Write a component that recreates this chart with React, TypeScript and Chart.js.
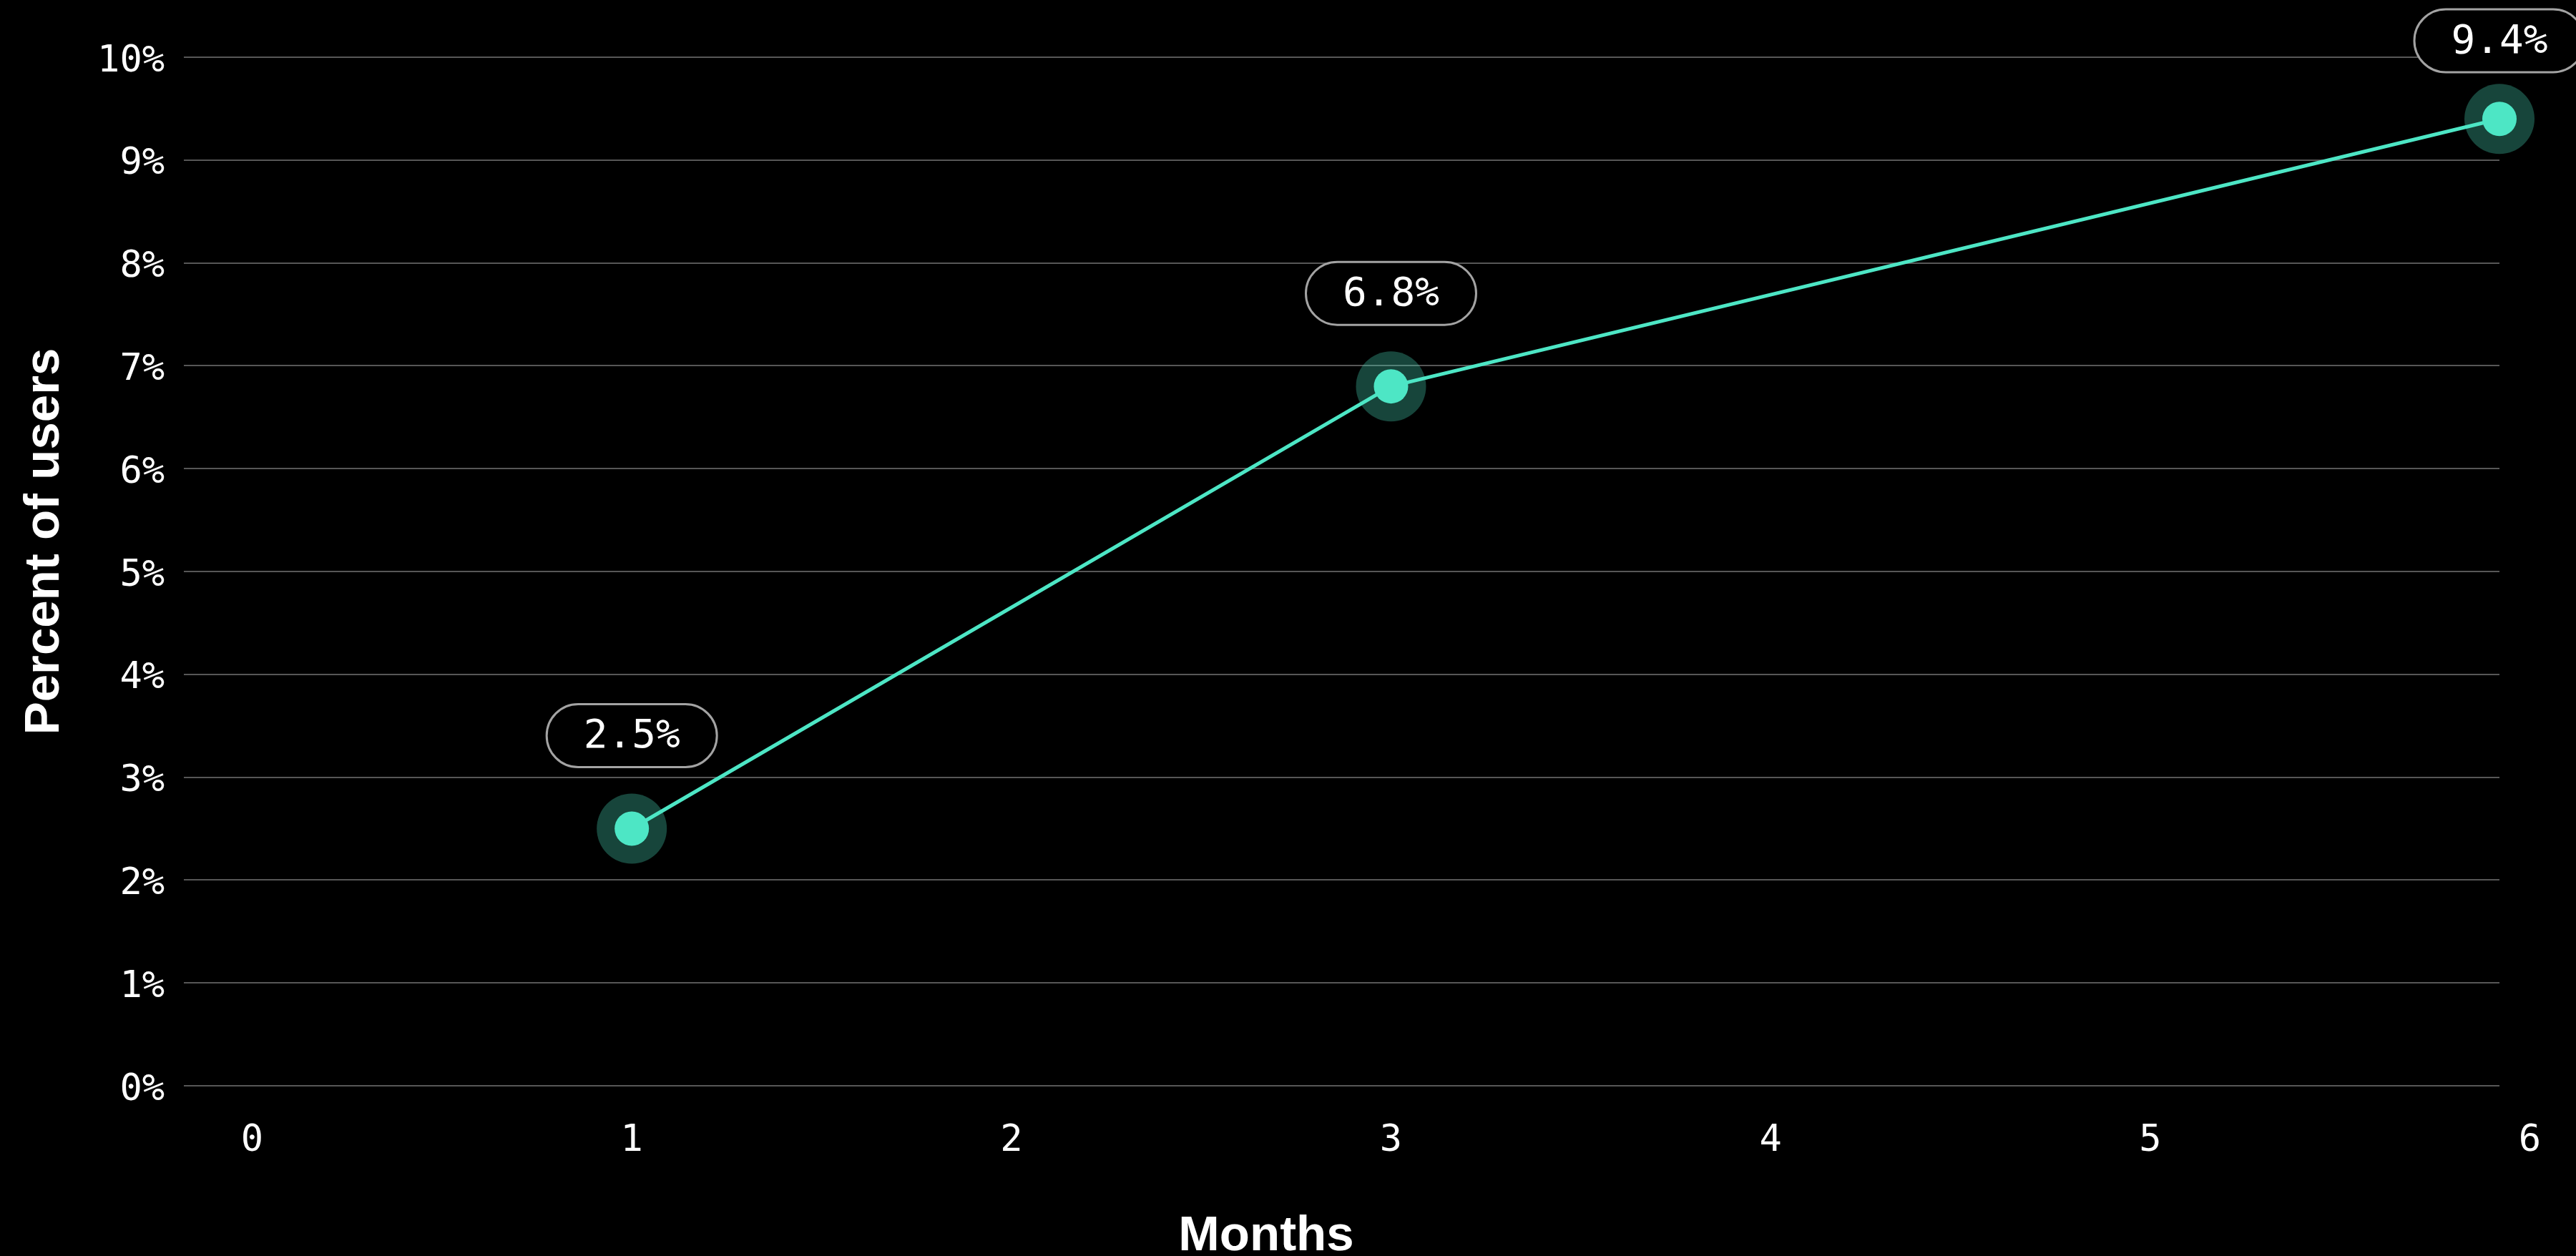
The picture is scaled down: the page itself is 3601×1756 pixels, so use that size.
import { useEffect, useRef } from "react";
import { Chart, registerables } from "chart.js";

Chart.register(...registerables);

// Share of users over time
const months = [1, 3, 5.92];
const percentOfUsers = [2.5, 6.8, 9.4];
const monthTicks = [0, 1, 2, 3, 4, 5, 6];
const xTitle = "Months";
const yTitle = "Percent of users";

const MONO = '"DejaVu Sans Mono", monospace';
const SANS = '"Liberation Sans", Arial, sans-serif';
const ACCENT = "#4de6c5";
const HALO = "rgba(77, 230, 197, 0.3)";

// Rounded value badges above each point
const valueBadges = {
  id: "valueBadges",
  afterDatasetsDraw(chart: any) {
    const ctx = chart.ctx as CanvasRenderingContext2D;
    const meta = chart.getDatasetMeta(0);
    const w = 238;
    const h = 88;
    const r = h / 2;
    ctx.save();
    meta.data.forEach((pt: any, i: number) => {
      const cx = pt.x;
      let cy = pt.y - 130;
      if (cy - h / 2 < 13) cy = 13 + h / 2;
      const x0 = cx - w / 2;
      const y0 = cy - h / 2;
      ctx.beginPath();
      ctx.moveTo(x0 + r, y0);
      ctx.lineTo(x0 + w - r, y0);
      ctx.arc(x0 + w - r, cy, r, -Math.PI / 2, Math.PI / 2);
      ctx.lineTo(x0 + r, y0 + h);
      ctx.arc(x0 + r, cy, r, Math.PI / 2, (3 * Math.PI) / 2);
      ctx.closePath();
      ctx.fillStyle = "#000";
      ctx.fill();
      ctx.lineWidth = 3;
      ctx.strokeStyle = "#a3a3a3";
      ctx.stroke();
      ctx.fillStyle = "#fff";
      ctx.font = `56px ${MONO}`;
      ctx.textAlign = "center";
      ctx.textBaseline = "middle";
      ctx.fillText(`${percentOfUsers[i]}%`, cx, cy + 2);
    });
    ctx.restore();
  },
};

// Axis titles
const axisTitles = {
  id: "axisTitles",
  afterDraw(chart: any) {
    const ctx = chart.ctx as CanvasRenderingContext2D;
    ctx.save();
    ctx.fillStyle = "#fff";
    ctx.font = `bold 69px ${SANS}`;
    ctx.textAlign = "center";
    ctx.textBaseline = "alphabetic";
    ctx.fillText(xTitle, 1770, 1748);

    ctx.translate(82, 757);
    ctx.rotate(-Math.PI / 2);
    ctx.fillText(yTitle, 0, 0);
    ctx.restore();
  },
};

export default function App() {
  const canvasRef = useRef<HTMLCanvasElement | null>(null);

  useEffect(() => {
    const canvas = canvasRef.current;
    if (!canvas) return;
    const points = months.map((m, i) => ({ x: m, y: percentOfUsers[i] }));
    const chart = new Chart(canvas, {
      type: "line",
      data: {
        datasets: [
          {
            data: points,
            borderColor: ACCENT,
            borderWidth: 5,
            pointRadius: 24,
            pointHoverRadius: 24,
            pointBackgroundColor: ACCENT,
            pointBorderWidth: 0,
            tension: 0,
            clip: false,
            order: 1,
          },
          {
            data: points,
            showLine: false,
            pointRadius: 49,
            pointHoverRadius: 49,
            pointBackgroundColor: HALO,
            pointBorderWidth: 0,
            clip: false,
            order: 2,
          },
        ],
      },
      options: {
        responsive: false,
        animation: false,
        events: [],
        layout: { padding: { top: 80, right: 107, left: 0, bottom: 0 } },
        plugins: {
          legend: { display: false },
          tooltip: { enabled: false },
        },
        scales: {
          x: {
            type: "linear",
            min: -0.18,
            max: 5.92,
            grid: { display: false, drawTicks: false },
            border: { display: false },
            ticks: {
              autoSkip: false,
              maxRotation: 0,
              padding: 46,
              color: "#fff",
              font: { family: MONO, size: 52 },
              callback: (v: any) => String(v),
            },
            afterBuildTicks: (scale: any) => {
              scale.ticks = monthTicks.map((v) => ({ value: v }));
            },
            afterFit: (scale: any) => {
              scale.height = 238;
            },
          },
          y: {
            min: 0,
            max: 10,
            grid: { color: "#575757", lineWidth: 2, drawTicks: false },
            border: { display: false },
            ticks: {
              stepSize: 1,
              padding: 27,
              labelOffset: 6,
              color: "#fff",
              font: { family: MONO, size: 52 },
              callback: (v: any) => `${v}%`,
            },
            afterFit: (scale: any) => {
              scale.width = 257;
            },
          },
        },
      },
      plugins: [valueBadges, axisTitles],
    });
    return () => chart.destroy();
  }, []);

  return (
    <div
      style={{
        position: "fixed",
        left: 0,
        top: 0,
        width: 3601,
        height: 1756,
        background: "#000",
      }}
    >
      <canvas ref={canvasRef} width={3601} height={1756} style={{ display: "block" }} />
    </div>
  );
}
